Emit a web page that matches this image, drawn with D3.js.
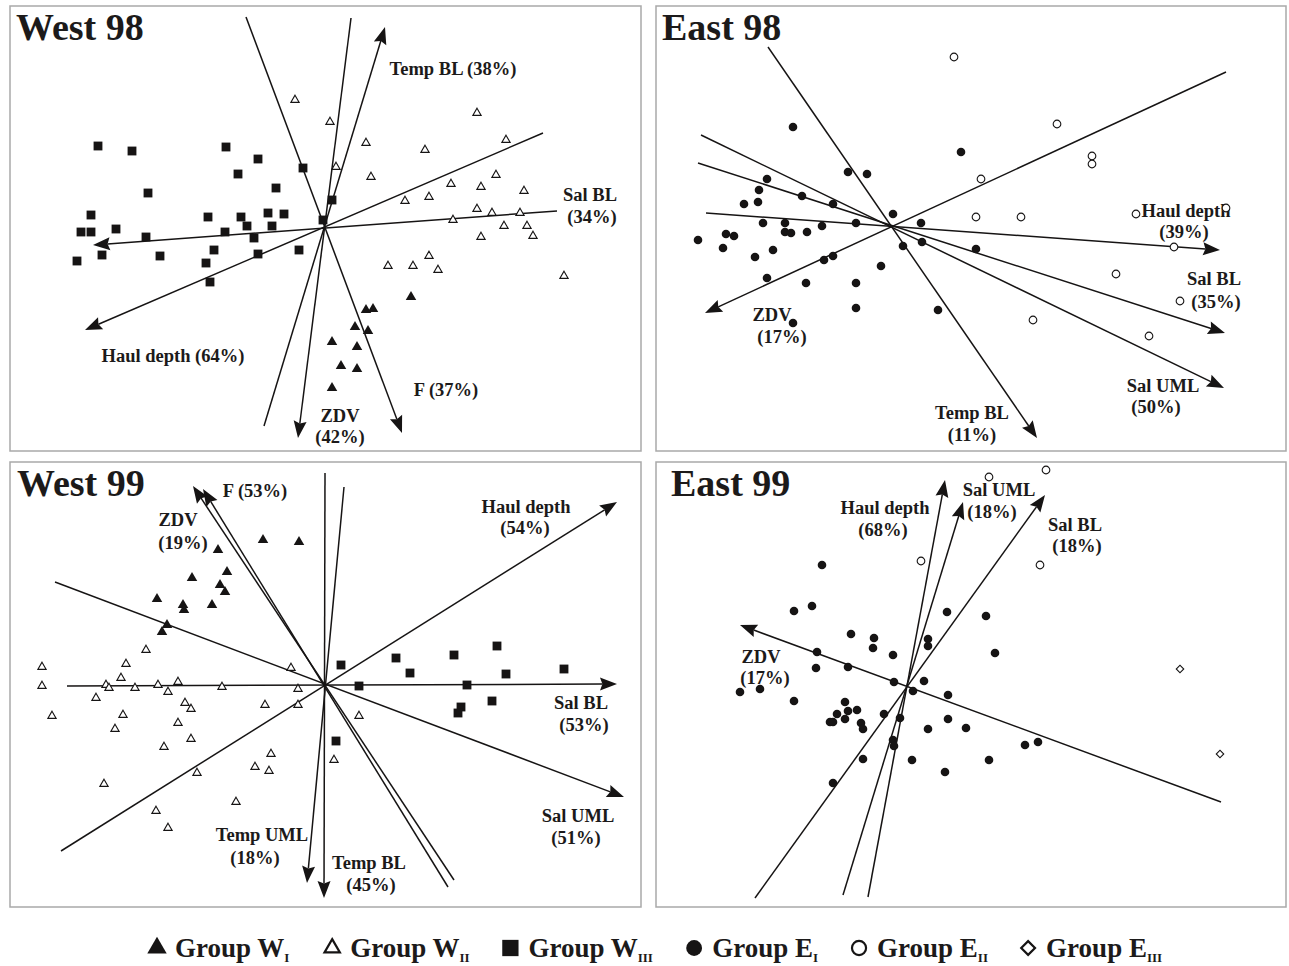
<!DOCTYPE html>
<html>
<head>
<meta charset="utf-8">
<script src="https://cdn.jsdelivr.net/npm/d3@7"></script>
<style>
  body { margin: 0; background: #fff; }
  text { font-family: "Liberation Serif", "Times New Roman", serif; font-weight: bold; fill: #1c1a1a; }
</style>
</head>
<body>
<div id="chart"></div>
<script>
var width = 1289;
var height = 966;

// Ordination scores (1 unit = 10 px, origin = biplot centre, y up)
// group codes: W1 filled triangle, W2 open triangle, W3 filled square,
//              E1 filled circle, E2 open circle, E3 open diamond
var west98Points = [
  [-22.5, 8.2, 'W3'], [-19.1, 7.7, 'W3'], [-9.7, 8.1, 'W3'], [-6.5, 6.9, 'W3'], [-8.5, 5.4, 'W3'],
  [-2.0, 6.0, 'W3'], [-17.5, 3.5, 'W3'], [-4.7, 4.0, 'W3'], [-23.2, 1.3, 'W3'], [-11.5, 1.1, 'W3'],
  [-8.2, 1.1, 'W3'], [-5.5, 1.5, 'W3'], [-3.9, 1.4, 'W3'], [-24.2, -0.4, 'W3'], [-23.2, -0.4, 'W3'],
  [-20.7, -0.1, 'W3'], [-7.6, 0.2, 'W3'], [-5.1, 0.2, 'W3'], [-9.8, -0.4, 'W3'], [-17.7, -0.9, 'W3'],
  [-6.9, -1.0, 'W3'], [-22.1, -2.7, 'W3'], [-16.3, -2.8, 'W3'], [-10.9, -2.2, 'W3'], [-6.5, -2.6, 'W3'],
  [-2.4, -2.2, 'W3'], [-24.6, -3.3, 'W3'], [-11.7, -3.5, 'W3'], [-11.3, -5.4, 'W3'], [0.0, 0.8, 'W3'],
  [0.9, 2.8, 'W3'],
  [-2.8, 12.8, 'W2'], [0.7, 10.6, 'W2'], [4.3, 8.5, 'W2'], [1.3, 6.1, 'W2'], [4.8, 5.1, 'W2'],
  [10.2, 7.8, 'W2'], [15.4, 11.5, 'W2'], [18.3, 8.8, 'W2'], [17.3, 5.3, 'W2'], [12.8, 4.4, 'W2'],
  [15.8, 4.1, 'W2'], [20.1, 3.7, 'W2'], [8.2, 2.7, 'W2'], [10.6, 3.1, 'W2'], [15.4, 1.9, 'W2'],
  [16.9, 1.5, 'W2'], [19.7, 1.5, 'W2'], [13.0, 0.8, 'W2'], [18.1, 0.2, 'W2'], [20.4, 0.2, 'W2'],
  [21.0, -0.8, 'W2'], [15.8, -0.9, 'W2'], [6.5, -3.8, 'W2'], [9.0, -3.8, 'W2'], [10.6, -2.8, 'W2'],
  [11.5, -4.2, 'W2'], [24.1, -4.8, 'W2'],
  [8.8, -6.9, 'W1'], [4.3, -8.2, 'W1'], [5.0, -8.1, 'W1'], [3.2, -9.9, 'W1'], [4.5, -10.3, 'W1'],
  [0.9, -11.4, 'W1'], [3.4, -11.9, 'W1'], [1.8, -13.8, 'W1'], [3.4, -14.1, 'W1'], [0.9, -16.0, 'W1']
];
var west98Vectors = [
  {name: 'Temp BL', tip: [6.2, 20.1], tail: [-5.9, -19.8]},
  {name: 'ZDV', tip: [-2.5, -21.0], tail: [2.8, 21.0]},
  {name: 'F', tip: [7.9, -20.5], tail: [-7.7, 21.1]},
  {name: 'Haul depth', tip: [-23.8, -10.2], tail: [22.0, 9.5]},
  {name: 'Sal BL', tip: [-23.0, -1.7], tail: [23.4, 1.7]}
];
var west98Labels = [
  ['Temp BL (38%)', 13.0, 15.3], ['Sal BL', 26.7, 2.7], ['(34%)', 26.9, 0.5],
  ['Haul depth (64%)', -15.0, -13.4], ['F (37%)', 12.3, -16.8], ['ZDV', 1.7, -19.4], ['(42%)', 1.7, -21.5]
];

var east98Points = [
  [-9.9, 10.0, 'E1'], [6.9, 7.5, 'E1'], [-4.4, 5.5, 'E1'], [-2.5, 5.3, 'E1'], [-12.5, 4.8, 'E1'],
  [-13.3, 3.7, 'E1'], [-14.8, 2.3, 'E1'], [-13.4, 2.5, 'E1'], [-9.0, 3.1, 'E1'], [-5.9, 2.3, 'E1'],
  [0.1, 1.3, 'E1'], [-12.9, 0.4, 'E1'], [-10.7, 0.4, 'E1'], [-3.6, 0.4, 'E1'], [-7.0, 0.1, 'E1'],
  [2.9, 0.4, 'E1'], [-10.7, -0.5, 'E1'], [-10.1, -0.6, 'E1'], [-8.5, -0.5, 'E1'], [-19.4, -1.3, 'E1'],
  [-16.6, -0.7, 'E1'], [-15.8, -0.9, 'E1'], [-16.9, -2.1, 'E1'], [-11.9, -2.3, 'E1'], [-13.7, -3.0, 'E1'],
  [1.1, -1.9, 'E1'], [3.0, -1.5, 'E1'], [-6.8, -3.3, 'E1'], [-5.9, -2.9, 'E1'], [-1.1, -3.9, 'E1'],
  [-12.5, -5.1, 'E1'], [-8.6, -5.6, 'E1'], [-3.6, -5.6, 'E1'], [-3.6, -8.1, 'E1'], [4.6, -8.3, 'E1'],
  [-9.9, -9.6, 'E1'], [8.4, -2.2, 'E1'],
  [6.2, 17.0, 'E2'], [16.5, 10.3, 'E2'], [20.0, 7.1, 'E2'], [20.0, 6.3, 'E2'], [8.9, 4.8, 'E2'],
  [8.4, 1.0, 'E2'], [12.9, 1.0, 'E2'], [24.4, 1.3, 'E2'], [33.4, 1.9, 'E2'], [28.2, -2.0, 'E2'],
  [22.4, -4.7, 'E2'], [28.8, -7.4, 'E2'], [14.1, -9.3, 'E2'], [25.7, -10.9, 'E2']
];
var east98Vectors = [
  {name: 'ZDV', tip: [-18.7, -8.6], tail: [33.4, 15.5]},
  {name: 'Temp BL', tip: [14.5, -21.1], tail: [-12.4, 18.0]},
  {name: 'Sal UML', tip: [33.2, -16.1], tail: [-19.1, 9.2]},
  {name: 'Sal BL', tip: [33.3, -10.6], tail: [-19.4, 6.4]},
  {name: 'Haul depth', tip: [32.8, -2.3], tail: [-18.6, 1.4]}
];
var east98Labels = [
  ['ZDV', -12.0, -9.4], ['(17%)', -11.0, -11.6], ['Temp BL', 8.0, -19.2], ['(11%)', 8.0, -21.4],
  ['Sal UML', 27.1, -16.5], ['(50%)', 26.4, -18.6], ['Sal BL', 32.2, -5.8], ['(35%)', 32.4, -8.1],
  ['Haul depth', 29.4, 1.0], ['(39%)', 29.2, -1.1]
];

var west99Points = [
  [-6.0, 14.5, 'W1'], [-2.4, 14.3, 'W1'], [-10.5, 13.5, 'W1'], [-9.6, 11.3, 'W1'], [-13.1, 10.7, 'W1'],
  [-10.3, 10.0, 'W1'], [-9.8, 9.3, 'W1'], [-16.6, 8.6, 'W1'], [-14.0, 8.0, 'W1'], [-13.9, 7.5, 'W1'],
  [-11.1, 8.0, 'W1'], [-15.6, 6.0, 'W1'], [-16.1, 5.3, 'W1'],
  [-17.7, 3.5, 'W2'], [-19.7, 2.1, 'W2'], [-28.1, 1.8, 'W2'], [-20.2, 0.7, 'W2'], [-3.2, 1.7, 'W2'],
  [-28.1, -0.1, 'W2'], [-21.7, 0.0, 'W2'], [-21.4, -0.3, 'W2'], [-18.8, -0.3, 'W2'], [-16.5, 0.0, 'W2'],
  [-14.5, 0.3, 'W2'], [-10.1, -0.2, 'W2'], [-2.5, -0.4, 'W2'], [-15.5, -0.7, 'W2'], [-22.7, -1.3, 'W2'],
  [-13.8, -1.8, 'W2'], [-13.2, -2.4, 'W2'], [-5.8, -2.0, 'W2'], [-2.5, -2.0, 'W2'], [-27.1, -3.1, 'W2'],
  [-20.0, -3.0, 'W2'], [-14.5, -3.8, 'W2'], [-20.8, -4.4, 'W2'], [-13.2, -5.4, 'W2'], [-15.9, -6.2, 'W2'],
  [-5.2, -6.9, 'W2'], [-6.8, -8.2, 'W2'], [-5.4, -8.6, 'W2'], [-12.6, -8.8, 'W2'], [-21.9, -9.9, 'W2'],
  [-8.7, -11.7, 'W2'], [-16.7, -12.6, 'W2'], [-15.5, -14.3, 'W2'], [3.6, -3.1, 'W2'], [1.1, -7.5, 'W2'],
  [1.8, 2.0, 'W3'], [7.3, 2.7, 'W3'], [8.7, 1.2, 'W3'], [13.1, 3.0, 'W3'], [17.4, 3.9, 'W3'],
  [18.3, 1.1, 'W3'], [24.1, 1.6, 'W3'], [3.6, -0.1, 'W3'], [14.4, 0.0, 'W3'], [16.9, -1.6, 'W3'],
  [13.8, -2.2, 'W3'], [13.5, -2.8, 'W3'], [1.3, -5.6, 'W3']
];
var west99Vectors = [
  {name: 'F', tip: [-12.0, 19.6], tail: [12.5, -20.2]},
  {name: 'ZDV', tip: [-13.0, 19.9], tail: [13.1, -19.5]},
  {name: 'Sal UML', tip: [30.1, -11.2], tail: [-26.8, 10.3]},
  {name: 'Sal BL', tip: [29.4, 0.1], tail: [-25.6, -0.1]},
  {name: 'Haul depth', tip: [29.4, 18.3], tail: [-26.2, -16.6]},
  {name: 'Temp BL', tip: [0.1, -21.3], tail: [0.2, 21.2]},
  {name: 'Temp UML', tip: [-1.6, -19.8], tail: [2.1, 19.8]}
];
var west99Labels = [
  ['F (53%)', -6.8, 18.8], ['ZDV', -14.5, 15.9], ['(19%)', -14.0, 13.6],
  ['Haul depth', 20.3, 17.2], ['(54%)', 20.2, 15.1], ['Sal BL', 25.8, -2.4], ['(53%)', 26.1, -4.6],
  ['Sal UML', 25.5, -13.7], ['(51%)', 25.3, -15.9], ['Temp BL', 4.6, -18.4], ['(45%)', 4.8, -20.6],
  ['Temp UML', -6.1, -15.6], ['(18%)', -6.8, -17.9]
];

var east99Points = [
  [-8.4, 12.0, 'E1'], [-11.2, 7.4, 'E1'], [-9.4, 7.9, 'E1'], [4.1, 7.3, 'E1'], [-5.5, 5.1, 'E1'],
  [-3.2, 4.7, 'E1'], [-3.3, 3.7, 'E1'], [2.2, 4.6, 'E1'], [2.2, 3.9, 'E1'], [-1.3, 3.0, 'E1'],
  [-8.9, 3.3, 'E1'], [-9.0, 1.7, 'E1'], [-5.8, 1.8, 'E1'], [-1.2, 0.3, 'E1'], [1.8, 0.4, 'E1'],
  [-16.6, -0.7, 'E1'], [-14.6, -0.4, 'E1'], [-11.2, -1.6, 'E1'], [0.7, -0.6, 'E1'], [4.2, -1.0, 'E1'],
  [-6.1, -1.7, 'E1'], [-6.9, -2.9, 'E1'], [-5.8, -2.6, 'E1'], [-4.9, -2.5, 'E1'], [-6.1, -3.4, 'E1'],
  [-7.6, -3.7, 'E1'], [-7.3, -3.7, 'E1'], [-4.5, -3.8, 'E1'], [-4.3, -4.4, 'E1'], [-2.2, -2.9, 'E1'],
  [-0.6, -3.3, 'E1'], [4.2, -3.4, 'E1'], [2.2, -4.4, 'E1'], [6.0, -4.3, 'E1'], [-1.3, -5.5, 'E1'],
  [-1.2, -6.1, 'E1'], [-4.3, -7.4, 'E1'], [0.6, -7.5, 'E1'], [3.9, -8.7, 'E1'], [-7.3, -9.8, 'E1'],
  [8.0, 6.9, 'E1'], [8.9, 3.2, 'E1'], [11.9, -6.0, 'E1'], [13.2, -5.7, 'E1'], [8.3, -7.5, 'E1'],
  [1.5, 12.4, 'E2'], [8.3, 20.8, 'E2'], [14.0, 21.5, 'E2'], [13.4, 12.0, 'E2'],
  [27.4, 1.6, 'E3'], [31.4, -6.9, 'E3']
];
var east99Vectors = [
  {name: 'ZDV', tip: [-16.6, 6.0], tail: [31.5, -11.7]},
  {name: 'Haul depth', tip: [3.9, 20.5], tail: [-3.8, -21.2]},
  {name: 'Sal UML', tip: [5.7, 18.3], tail: [-6.3, -21.0]},
  {name: 'Sal BL', tip: [13.9, 19.0], tail: [-15.1, -21.3]}
];
var east99Labels = [
  ['Haul depth', -2.1, 17.1], ['(68%)', -2.3, 14.9], ['Sal UML', 9.3, 18.9], ['(18%)', 8.6, 16.7],
  ['Sal BL', 16.9, 15.4], ['(18%)', 17.1, 13.3], ['ZDV', -14.5, 2.2], ['(17%)', -14.1, 0.1]
];

var legendGroups = [
  {code: 'W1', label: 'Group W', sub: 'I'},
  {code: 'W2', label: 'Group W', sub: 'II'},
  {code: 'W3', label: 'Group W', sub: 'III'},
  {code: 'E1', label: 'Group E', sub: 'I'},
  {code: 'E2', label: 'Group E', sub: 'II'},
  {code: 'E3', label: 'Group E', sub: 'III'}
];

// layout of the four panels (pixel boxes and the biplot centre inside each)
var panels = [
  {title: 'West 98', points: west98Points, vectors: west98Vectors, labels: west98Labels,
   box: [10, 6, 641, 451], origin: [323, 228], titleDx: 6},
  {title: 'East 98', points: east98Points, vectors: east98Vectors, labels: east98Labels,
   box: [656, 6, 1286, 451], origin: [892, 227], titleDx: 6},
  {title: 'West 99', points: west99Points, vectors: west99Vectors, labels: west99Labels,
   box: [10, 462, 641, 907], origin: [323, 685], titleDx: 7},
  {title: 'East 99', points: east99Points, vectors: east99Vectors, labels: east99Labels,
   box: [656, 462, 1286, 907], origin: [906, 685], titleDx: 15}
];

var ink = '#161414';
var symbolStyle = {
  W1: {type: d3.symbolTriangle, size: 48, fill: ink, stroke: 'none', rotate: 0},
  W2: {type: d3.symbolTriangle, size: 30, fill: '#fff', stroke: ink, rotate: 0},
  W3: {type: d3.symbolSquare, size: 78, fill: ink, stroke: 'none', rotate: 0},
  E1: {type: d3.symbolCircle, size: 58, fill: ink, stroke: 'none', rotate: 0},
  E2: {type: d3.symbolCircle, size: 46, fill: '#fff', stroke: ink, rotate: 0},
  E3: {type: d3.symbolSquare, size: 28, fill: '#fff', stroke: ink, rotate: 45}
};

var svg = d3.select('#chart')
  .append('svg')
    .attr('width', width)
    .attr('height', height);

svg.append('rect').attr('width', width).attr('height', height).attr('fill', '#fff');

var headLen = 17, headW = 6.5;

function drawPanel(p) {
  var unit = 10; // px per score unit
  var x = d3.scaleLinear()
    .domain([(p.box[0] - p.origin[0]) / unit, (p.box[2] - p.origin[0]) / unit])
    .range([p.box[0], p.box[2]]);
  var y = d3.scaleLinear()
    .domain([(p.origin[1] - p.box[3]) / unit, (p.origin[1] - p.box[1]) / unit])
    .range([p.box[3], p.box[1]]);

  var g = svg.append('g');

  g.append('rect')
    .attr('x', p.box[0]).attr('y', p.box[1])
    .attr('width', p.box[2] - p.box[0]).attr('height', p.box[3] - p.box[1])
    .attr('fill', 'none').attr('stroke', '#a9a9a9').attr('stroke-width', 1.5);

  g.append('text')
    .attr('x', p.box[0] + p.titleDx).attr('y', p.box[1] + 34)
    .style('font-size', '38px')
    .text(p.title);

  // variable labels
  g.selectAll('text.lab')
    .data(p.labels)
    .join('text')
      .attr('class', 'lab')
      .attr('x', d => x(d[1]))
      .attr('y', d => y(d[2]))
      .attr('text-anchor', 'middle')
      .style('font-size', '18.5px')
      .text(d => d[0]);

  // variable axes: a line through the centre with an arrow head on one end
  p.vectors.forEach(function(v) {
    var tx = x(v.tip[0]), ty = y(v.tip[1]);
    var sx = x(v.tail[0]), sy = y(v.tail[1]);
    var dx = tx - sx, dy = ty - sy, len = Math.hypot(dx, dy);
    var ux = dx / len, uy = dy / len;
    var bx = tx - ux * headLen, by = ty - uy * headLen;
    var nx = tx - ux * headLen * 0.86, ny = ty - uy * headLen * 0.86;
    g.append('line')
      .attr('x1', sx).attr('y1', sy).attr('x2', nx).attr('y2', ny)
      .attr('stroke', ink).attr('stroke-width', 1.5);
    g.append('path')
      .attr('d', 'M' + tx + ',' + ty +
        'L' + (bx - uy * headW) + ',' + (by + ux * headW) +
        'L' + nx + ',' + ny +
        'L' + (bx + uy * headW) + ',' + (by - ux * headW) + 'Z')
      .attr('fill', ink);
  });

  // sample scores
  g.selectAll('path.pt')
    .data(p.points)
    .join('path')
      .attr('class', 'pt')
      .attr('d', d => d3.symbol().type(symbolStyle[d[2]].type).size(symbolStyle[d[2]].size)())
      .attr('transform', d => 'translate(' + x(d[0]) + ',' + y(d[1]) + ') rotate(' + symbolStyle[d[2]].rotate + ')')
      .attr('fill', d => symbolStyle[d[2]].fill)
      .attr('stroke', d => symbolStyle[d[2]].stroke)
      .attr('stroke-width', 1.1);
}

panels.forEach(drawPanel);

// legend row, spread between the left and right ends
var legendLeft = 148, legendRight = 1160, legendY = 948;
var legend = svg.append('g');
var items = legend.selectAll('g')
  .data(legendGroups)
  .join('g');

items.append('path')
  .attr('d', d => d3.symbol().type(symbolStyle[d.code].type).size(symbolStyle[d.code].size * 3.4)())
  .attr('transform', d => 'translate(9,0) rotate(' + symbolStyle[d.code].rotate + ')')
  .attr('fill', d => symbolStyle[d.code].fill)
  .attr('stroke', d => symbolStyle[d.code].stroke)
  .attr('stroke-width', 2.2);

var labelText = items.append('text')
  .attr('x', 27)
  .attr('y', 9)
  .style('font-size', '27px');
labelText.append('tspan').text(d => d.label);
labelText.append('tspan')
  .attr('dy', 5)
  .style('font-size', '13px')
  .text(d => d.sub);

var widths = [];
items.each(function() { widths.push(this.getBBox().width); });
var gap = (legendRight - legendLeft - d3.sum(widths)) / (widths.length - 1);
var cursor = legendLeft;
items.attr('transform', function(d, i) {
  var t = 'translate(' + cursor + ',' + legendY + ')';
  cursor += widths[i] + gap;
  return t;
});
</script>
</body>
</html>
